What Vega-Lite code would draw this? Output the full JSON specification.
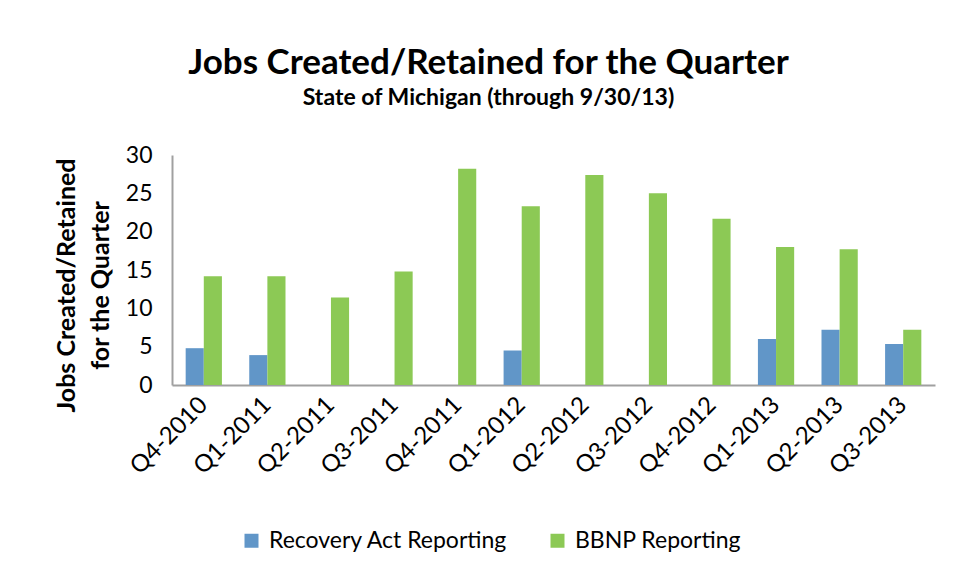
{
  "$schema": "https://vega.github.io/schema/vega-lite/v6.json",
  "width": 763,
  "height": 230,
  "autosize": {"type": "none"},
  "padding": {"left": 172, "top": 155, "right": 21, "bottom": 195},
  "background": "white",
  "title": {
    "text": "Jobs Created/Retained for the Quarter",
    "subtitle": "State of Michigan (through 9/30/13)",
    "font": "Lato",
    "fontSize": 35,
    "fontWeight": "bold",
    "color": "black",
    "subtitleFont": "Lato",
    "subtitleFontSize": 23,
    "subtitleFontWeight": "bold",
    "subtitleColor": "black",
    "subtitlePadding": 6,
    "anchor": "middle",
    "dx": -65,
    "offset": 34
  },
  "data": {
    "values": [
      {"quarter": "Q4-2010", "series": "Recovery Act Reporting", "jobs": 4.8},
      {"quarter": "Q4-2010", "series": "BBNP Reporting", "jobs": 14.2},
      {"quarter": "Q1-2011", "series": "Recovery Act Reporting", "jobs": 3.9},
      {"quarter": "Q1-2011", "series": "BBNP Reporting", "jobs": 14.2},
      {"quarter": "Q2-2011", "series": "Recovery Act Reporting", "jobs": 0},
      {"quarter": "Q2-2011", "series": "BBNP Reporting", "jobs": 11.4},
      {"quarter": "Q3-2011", "series": "Recovery Act Reporting", "jobs": 0},
      {"quarter": "Q3-2011", "series": "BBNP Reporting", "jobs": 14.8},
      {"quarter": "Q4-2011", "series": "Recovery Act Reporting", "jobs": 0},
      {"quarter": "Q4-2011", "series": "BBNP Reporting", "jobs": 28.2},
      {"quarter": "Q1-2012", "series": "Recovery Act Reporting", "jobs": 4.5},
      {"quarter": "Q1-2012", "series": "BBNP Reporting", "jobs": 23.3},
      {"quarter": "Q2-2012", "series": "Recovery Act Reporting", "jobs": 0},
      {"quarter": "Q2-2012", "series": "BBNP Reporting", "jobs": 27.4},
      {"quarter": "Q3-2012", "series": "Recovery Act Reporting", "jobs": 0},
      {"quarter": "Q3-2012", "series": "BBNP Reporting", "jobs": 25.0},
      {"quarter": "Q4-2012", "series": "Recovery Act Reporting", "jobs": 0},
      {"quarter": "Q4-2012", "series": "BBNP Reporting", "jobs": 21.7},
      {"quarter": "Q1-2013", "series": "Recovery Act Reporting", "jobs": 6.0},
      {"quarter": "Q1-2013", "series": "BBNP Reporting", "jobs": 18.0},
      {"quarter": "Q2-2013", "series": "Recovery Act Reporting", "jobs": 7.2},
      {"quarter": "Q2-2013", "series": "BBNP Reporting", "jobs": 17.7},
      {"quarter": "Q3-2013", "series": "Recovery Act Reporting", "jobs": 5.35},
      {"quarter": "Q3-2013", "series": "BBNP Reporting", "jobs": 7.2}
    ]
  },
  "mark": {"type": "bar"},
  "encoding": {
    "x": {
      "field": "quarter",
      "type": "nominal",
      "sort": null,
      "scale": {"paddingInner": 0.43, "paddingOuter": 0.215},
      "axis": {
        "title": null,
        "labelAngle": -45,
        "labelAlign": "right",
        "labelBaseline": "middle",
        "labelFont": "Lato",
        "labelFontSize": 24,
        "labelColor": "black",
        "labelPadding": 16,
        "ticks": false,
        "domainColor": "#a0a0a0",
        "domainWidth": 2
      }
    },
    "xOffset": {
      "field": "series",
      "type": "nominal",
      "sort": ["Recovery Act Reporting", "BBNP Reporting"],
      "scale": {"paddingInner": 0, "paddingOuter": 0}
    },
    "y": {
      "field": "jobs",
      "type": "quantitative",
      "scale": {"domain": [0, 30], "nice": false},
      "axis": {
        "title": ["Jobs Created/Retained", "for the Quarter"],
        "titleFont": "Lato",
        "titleFontSize": 25,
        "titleFontWeight": "bold",
        "titleColor": "black",
        "titleLineHeight": 34,
        "titlePadding": 12,
        "titleY": 130,
        "values": [0, 5, 10, 15, 20, 25, 30],
        "labelFont": "Lato",
        "labelFontSize": 23,
        "labelColor": "black",
        "labelPadding": 20,
        "ticks": false,
        "grid": false,
        "domainColor": "#a0a0a0",
        "domainWidth": 2
      }
    },
    "color": {
      "field": "series",
      "type": "nominal",
      "sort": ["Recovery Act Reporting", "BBNP Reporting"],
      "scale": {
        "domain": ["Recovery Act Reporting", "BBNP Reporting"],
        "range": ["#6196C8", "#8CC955"]
      },
      "legend": {
        "title": null,
        "orient": "none",
        "direction": "horizontal",
        "legendX": 68,
        "legendY": 374,
        "symbolType": "square",
        "symbolSize": 196,
        "symbolStrokeWidth": 0,
        "labelFont": "Lato",
        "labelFontSize": 23,
        "labelLimit": 400,
        "labelColor": "black",
        "labelOffset": 6,
        "columnPadding": 38
      }
    }
  },
  "config": {
    "view": {"stroke": null}
  }
}
